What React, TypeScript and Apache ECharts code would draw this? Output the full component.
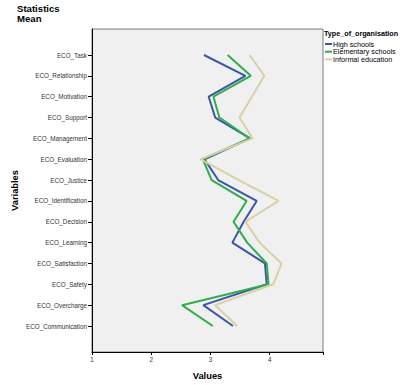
import React, { useEffect, useRef } from "react";
import * as echarts from "echarts";

const categories = [
  "ECO_Task",
  "ECO_Relationship",
  "ECO_Motivation",
  "ECO_Support",
  "ECO_Management",
  "ECO_Evaluation",
  "ECO_Justice",
  "ECO_Identification",
  "ECO_Decision",
  "ECO_Learning",
  "ECO_Satisfaction",
  "ECO_Safety",
  "ECO_Overcharge",
  "ECO_Communication",
];

const highSchools = [2.89, 3.59, 2.97, 3.08, 3.67, 2.9, 3.13, 3.78, 3.56, 3.37, 3.92, 3.95, 2.88, 3.38];
const elementarySchools = [3.29, 3.68, 3.05, 3.15, 3.66, 2.87, 3.02, 3.61, 3.39, 3.62, 3.95, 3.98, 2.52, 3.04];
const informalEducation = [3.66, 3.91, 3.7, 3.49, 3.71, 2.83, 3.48, 4.15, 3.59, 3.83, 4.2, 4.06, 3.08, 3.45];

const seriesNames = ["High schools", "Elementary schools", "Informal education"];
const seriesColors = ["#3c56a6", "#2fad4e", "#d8d0a6"];
const xMin = 1;
const xMax = 4.9;

const FONT = "'Liberation Sans', Arial, sans-serif";

export default function App() {
  const ref = useRef<HTMLDivElement>(null);
  useEffect(() => {
    if (!ref.current) return;
    const chart = echarts.init(ref.current, undefined, { renderer: "svg" });
    const allData = [highSchools, elementarySchools, informalEducation];
    const legendItems = seriesNames.flatMap((name, i) => {
      const y = 44 + 7.7 * i;
      return [
        {
          type: "line",
          shape: { x1: 325, y1: y, x2: 332, y2: y },
          style: { stroke: seriesColors[i], lineWidth: 2 },
        },
        {
          type: "text",
          x: 333,
          y,
          style: {
            text: name,
            fill: "#000",
            font: `7.2px ${FONT}`,
            verticalAlign: "middle",
            align: "left",
          },
        },
      ];
    });
    chart.setOption({
      animation: false,
      backgroundColor: "#ffffff",
      textStyle: { fontFamily: FONT },
      title: [
        {
          text: "Statistics\nMean",
          left: 17,
          top: 3,
          padding: 0,
          textStyle: { fontFamily: FONT, fontSize: 9.6, fontWeight: "bold", color: "#000", lineHeight: 10 },
        },
        {
          text: "Type_of_organisation",
          left: 324,
          top: 30,
          padding: 0,
          textStyle: { fontFamily: FONT, fontSize: 7.2, fontWeight: "bold", color: "#000" },
        },
      ],
      graphic: legendItems,
      grid: [
        {
          left: 92,
          right: 85,
          top: 29,
          bottom: 33,
          show: true,
          backgroundColor: "#f0f0f0",
          borderColor: "#7a7a7a",
          borderWidth: 1,
        },
        { left: 92, right: 85, top: 55, bottom: 59 },
      ],
      xAxis: [
        {
          gridIndex: 0,
          type: "value",
          min: xMin,
          max: xMax,
          interval: 1,
          axisLine: { show: true, lineStyle: { color: "#000", width: 1 } },
          axisTick: { show: true, length: 3, lineStyle: { color: "#000" } },
          axisLabel: {
            fontFamily: FONT,
            fontSize: 6.3,
            color: "#333",
            margin: 4,
            formatter: (v: number) => (Number.isInteger(v) ? String(v) : ""),
          },
          splitLine: { show: false },
          name: "Values",
          nameLocation: "middle",
          nameGap: 19,
          nameTextStyle: { fontFamily: FONT, fontSize: 9.3, fontWeight: "bold", color: "#000" },
        },
        { gridIndex: 1, type: "value", min: xMin, max: xMax, show: false },
      ],
      yAxis: [
        {
          gridIndex: 0,
          type: "value",
          min: 0,
          max: 1,
          axisLine: { show: true, lineStyle: { color: "#000", width: 1 } },
          axisTick: { show: false },
          axisLabel: { show: false },
          splitLine: { show: false },
          name: "Variables",
          nameLocation: "middle",
          nameRotate: 90,
          nameGap: 73,
          nameTextStyle: { fontFamily: FONT, fontSize: 9.3, fontWeight: "bold", color: "#000" },
        },
        {
          gridIndex: 1,
          type: "category",
          data: categories,
          inverse: true,
          boundaryGap: false,
          axisLine: { show: false },
          axisTick: { show: true, length: 4, alignWithLabel: true, lineStyle: { color: "#000" } },
          axisLabel: { fontFamily: FONT, fontSize: 6.3, color: "#333", margin: 5, interval: 0 },
          splitLine: { show: false },
        },
      ],
      series: allData.map((d, i) => ({
        name: seriesNames[i],
        type: "line",
        xAxisIndex: 1,
        yAxisIndex: 1,
        symbol: "none",
        color: seriesColors[i],
        lineStyle: { color: seriesColors[i], width: 2 },
        data: d.map((v, j) => [v, categories[j]]),
      })),
    });
    return () => chart.dispose();
  }, []);
  return (
    <div
      ref={ref}
      style={{ position: "fixed", left: 0, top: 0, width: 408, height: 385 }}
    />
  );
}
